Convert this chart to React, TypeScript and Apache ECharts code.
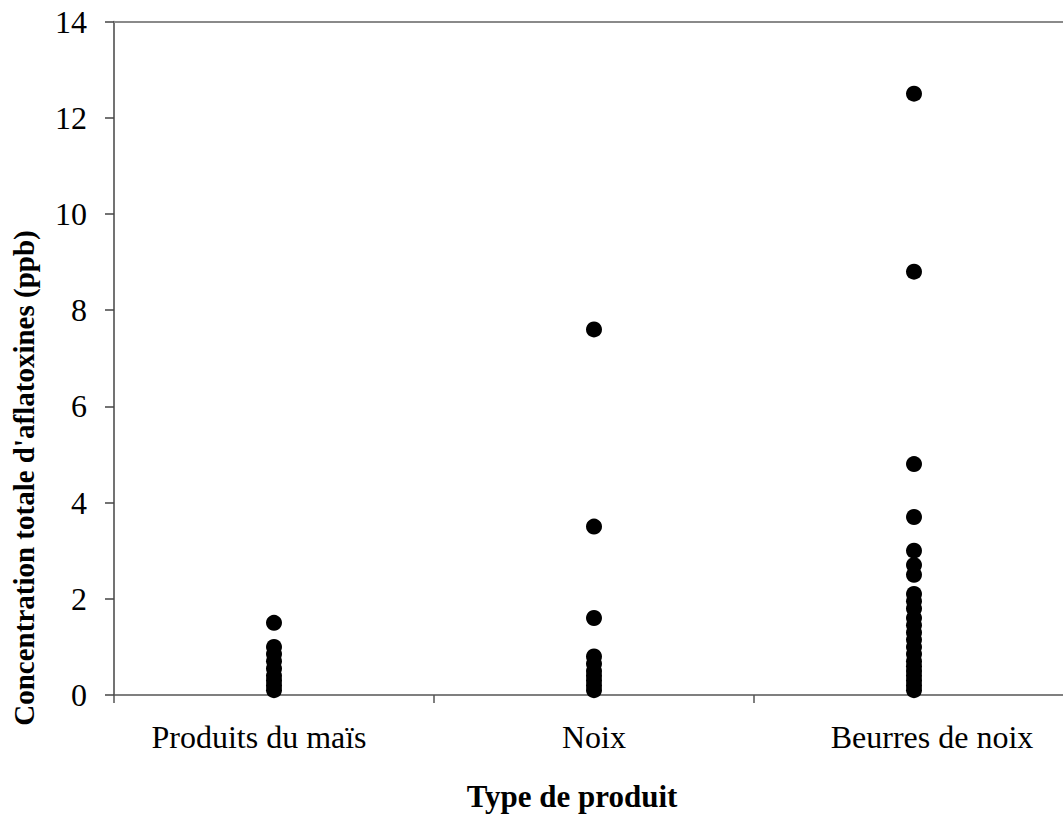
import React, { useEffect, useRef } from "react";
import * as echarts from "echarts";

const categories = ["Produits du maïs", "Noix", "Beurres de noix"];
const maisValues = [1.5, 1.0, 0.85, 0.7, 0.55, 0.4, 0.3, 0.2, 0.1];
const noixValues = [7.6, 3.5, 1.6, 0.8, 0.65, 0.5, 0.4, 0.3, 0.2, 0.1];
const beurreValues = [12.5, 8.8, 4.8, 3.7, 3.0, 2.7, 2.5, 2.1, 1.95, 1.8, 1.6, 1.45, 1.3, 1.15, 1.0, 0.85, 0.7, 0.6, 0.5, 0.4, 0.3, 0.2, 0.1];
const yTicks = { min: 0, max: 14, interval: 2 };
const xTitle = "Type de produit";
const yTitle = "Concentration totale d'aflatoxines (ppb)";

const FONT = "Liberation Serif";

export default function App() {
  const ref = useRef<HTMLDivElement>(null);
  useEffect(() => {
    if (!ref.current) return;
    const chart = echarts.init(ref.current, null, { renderer: "svg" });
    const groups = [maisValues, noixValues, beurreValues];
    const data: [number, number][] = [];
    groups.forEach((vals, i) => vals.forEach((v) => data.push([i, v])));
    chart.setOption({
      animation: false,
      backgroundColor: "#fff",
      grid: { left: 114, top: 21.5, right: 6, bottom: 121, containLabel: false },
      xAxis: [
        {
          type: "category",
          data: categories,
          boundaryGap: true,
          axisLine: { lineStyle: { color: "#555", width: 1.5 } },
          axisTick: { show: true, length: 8, inside: false, lineStyle: { color: "#555", width: 1.5 } },
          axisLabel: {
            interval: 0,
            margin: 26,
            color: "#000",
            fontFamily: FONT,
            fontSize: 32,
            formatter: (v: string, idx: number) => (idx === 0 ? `{a|${v}}` : idx === 2 ? `{c|${v}}` : `{b|${v}}`),
            rich: {
              a: { fontFamily: FONT, fontSize: 32, color: "#000", padding: [0, 30, 0, 0] },
              b: { fontFamily: FONT, fontSize: 32, color: "#000" },
              c: { fontFamily: FONT, fontSize: 32, color: "#000", padding: [0, 0, 0, 36] },
            },
          },
          splitLine: { show: false },
        },
        {
          type: "category",
          data: categories,
          position: "top",
          axisLine: { lineStyle: { color: "#8a8a8a", width: 2 } },
          axisTick: { show: false },
          axisLabel: { show: false },
        },
      ],
      yAxis: {
        type: "value",
        min: yTicks.min,
        max: yTicks.max,
        interval: yTicks.interval,
        axisLine: { show: true, lineStyle: { color: "#444", width: 1.5 } },
        axisTick: { show: true, length: 9, lineStyle: { color: "#444", width: 1.5 } },
        axisLabel: { margin: 27, color: "#000", fontFamily: FONT, fontSize: 32 },
        splitLine: { show: false },
      },
      graphic: [
        {
          type: "text",
          x: 572,
          y: 796,
          style: {
            text: xTitle,
            fontFamily: FONT,
            fontSize: 31,
            fontWeight: "bold",
            fill: "#000",
            textAlign: "center",
            textVerticalAlign: "middle",
          },
        },
        {
          type: "text",
          x: 24,
          y: 478,
          rotation: Math.PI / 2,
          style: {
            text: yTitle,
            fontFamily: FONT,
            fontSize: 29,
            fontWeight: "bold",
            fill: "#000",
            textAlign: "center",
            textVerticalAlign: "middle",
          },
        },
      ],
      series: [
        {
          type: "scatter",
          xAxisIndex: 0,
          data,
          symbol: "circle",
          symbolSize: 16,
          itemStyle: { color: "#000", opacity: 1 },
        },
      ],
    });
    return () => chart.dispose();
  }, []);
  return (
    <div style={{ position: "absolute", left: 0, top: 0, width: 1063, height: 816, overflow: "hidden", background: "#fff" }}>
      <div ref={ref} style={{ position: "absolute", left: 0, top: 0, width: 1080, height: 816 }} />
    </div>
  );
}
